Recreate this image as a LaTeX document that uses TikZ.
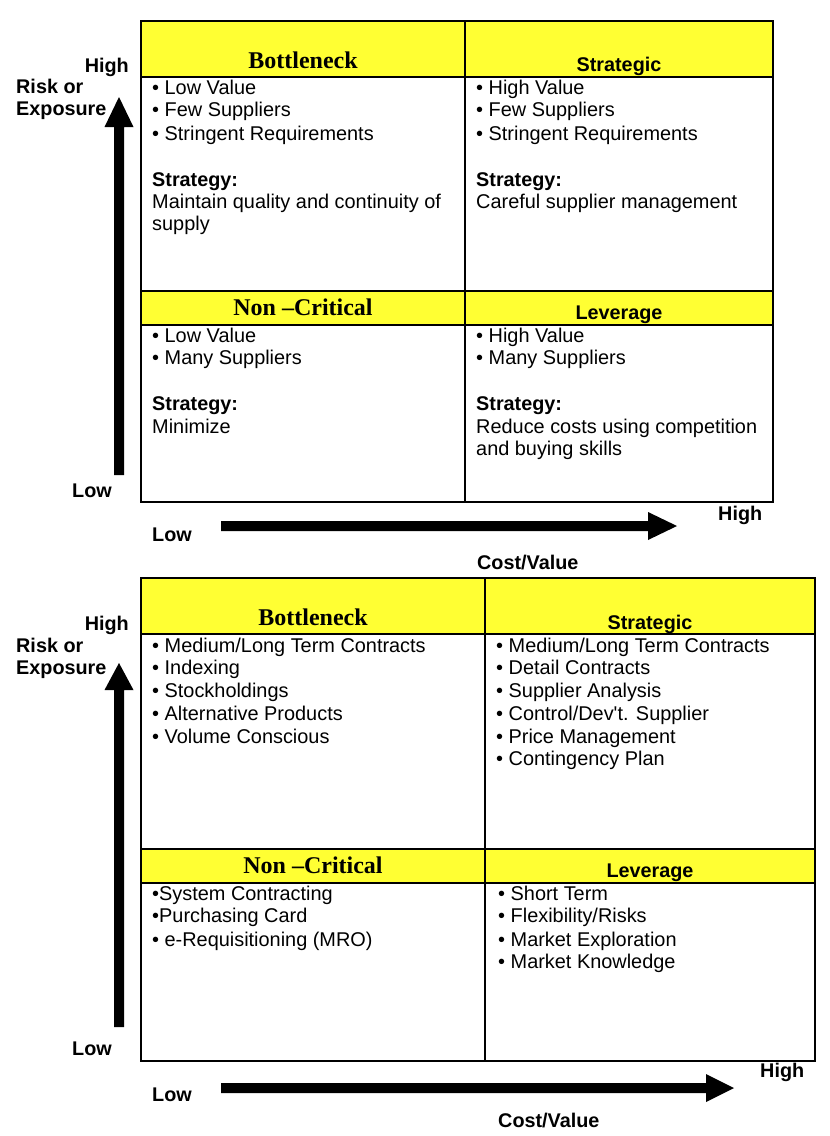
\documentclass[tikz,border=0pt]{standalone}
\usepackage{fontspec}
\setmainfont{Liberation Sans}
\newfontfamily\hdfont{Liberation Serif}
\definecolor{hdyellow}{HTML}{FFFF33}
\begin{document}
\begin{tikzpicture}[x=1pt,y=-1pt,
  body/.style={anchor=base west,inner sep=0pt,font=\fontsize{19.9}{23}\selectfont},
  lab/.style={anchor=base west,inner sep=0pt,font=\fontsize{19.8}{23}\selectfont\bfseries},
  labr/.style={anchor=base east,inner sep=0pt,font=\fontsize{19.8}{23}\selectfont\bfseries},
  hdT/.style={anchor=base,inner sep=0pt,font=\fontsize{24}{28}\selectfont\hdfont\bfseries},
  hdA/.style={anchor=base,inner sep=0pt,font=\fontsize{19.8}{23}\selectfont\bfseries},
  gridline/.style={line width=2pt,draw=black},
  hdfill/.style={fill=hdyellow}]
\useasboundingbox (0,0) rectangle (830,1136);

% ================= TOP MATRIX =================
\fill[hdfill] (141,21) rectangle (773,77);
\fill[hdfill] (141,291) rectangle (773,325);
\draw[gridline] (141,77) -- (773,77);
\draw[gridline] (141,291) -- (773,291);
\draw[gridline] (141,325) -- (773,325);
\draw[gridline] (465,21) -- (465,502);
\draw[gridline] (141,21) rectangle (773,502);

\node[hdT] (t-bn) at (303,68) {Bottleneck};
\node[hdA] (t-st) at (619,71) {Strategic};
\node[hdT] (t-nc) at (303,315) {Non –Critical};
\node[hdA] (t-lv) at (619,319) {Leverage};

\node[body] (t11) at (152,94) {• Low Value};
\node[body] (t12) at (152,116.5) {• Few Suppliers};
\node[body] (t13) at (152,140) {• Stringent Requirements};
\node[lab]  (t14) at (152,186) {Strategy:};
\node[body] (t15) at (152,208) {Maintain quality and continuity of};
\node[body] (t16) at (152,230) {supply};

\node[body] (t21) at (476,94) {• High Value};
\node[body] (t22) at (476,116.5) {• Few Suppliers};
\node[body] (t23) at (476,140) {• Stringent Requirements};
\node[lab]  (t24) at (476,186) {Strategy:};
\node[body] (t25) at (476,208) {Careful supplier management};

\node[body] (t31) at (152,342) {• Low Value};
\node[body] (t32) at (152,364) {• Many Suppliers};
\node[lab]  (t33) at (152,410) {Strategy:};
\node[body] (t34) at (152,433) {Minimize};

\node[body] (t41) at (476,342) {• High Value};
\node[body] (t42) at (476,364) {• Many Suppliers};
\node[lab]  (t43) at (476,410) {Strategy:};
\node[body] (t44) at (476,433) {Reduce costs using competition};
\node[body] (t45) at (476,455) {and buying skills};

% axes top
\fill (114,475) -- (114,127) -- (104.5,127) -- (119,97) -- (133.5,127) -- (124,127) -- (124,475) -- cycle;
\fill (221,521) -- (648,521) -- (648,512) -- (677,526) -- (648,540) -- (648,531) -- (221,531) -- cycle;

\node[labr] (t-hi) at (129,72) {High};
\node[lab]  (t-r1) at (16,93) {Risk or};
\node[lab]  (t-r2) at (16,115) {Exposure};
\node[lab]  (t-lo) at (72,497) {Low};
\node[lab]  (t-xl) at (152,541) {Low};
\node[lab]  (t-xh) at (718,520) {High};
\node[lab]  (t-cv) at (477,569) {Cost/Value};

% ================= BOTTOM MATRIX =================
\fill[hdfill] (141,578) rectangle (815,634);
\fill[hdfill] (141,849) rectangle (815,883);
\draw[gridline] (141,634) -- (815,634);
\draw[gridline] (141,849) -- (815,849);
\draw[gridline] (141,883) -- (815,883);
\draw[gridline] (485,578) -- (485,1061);
\draw[gridline] (141,578) rectangle (815,1061);

\node[hdT] (b-bn) at (313,625) {Bottleneck};
\node[hdA] (b-st) at (650,629) {Strategic};
\node[hdT] (b-nc) at (313,873) {Non –Critical};
\node[hdA] (b-lv) at (650,877) {Leverage};

\node[body] (b11) at (152,652) {• Medium/Long Term Contracts};
\node[body] (b12) at (152,674) {• Indexing};
\node[body] (b13) at (152,697) {• Stockholdings};
\node[body] (b14) at (152,720) {• Alternative Products};
\node[body] (b15) at (152,743) {• Volume Conscious};

\node[body] (b21) at (496,652) {• Medium/Long Term Contracts};
\node[body] (b22) at (496,674) {• Detail Contracts};
\node[body] (b23) at (496,697) {• Supplier Analysis};
\node[body] (b24) at (496,720) {• Control/Dev\textquotesingle t. Supplier};
\node[body] (b25) at (496,743) {• Price Management};
\node[body] (b26) at (496,765) {• Contingency Plan};

\node[body] (b31) at (152,900) {•System Contracting};
\node[body] (b32) at (152,922) {•Purchasing Card};
\node[body] (b33) at (152,946) {• e-Requisitioning (MRO)};

\node[body] (b41) at (498,900) {• Short Term};
\node[body] (b42) at (498,922) {• Flexibility/Risks};
\node[body] (b43) at (498,946) {• Market Exploration};
\node[body] (b44) at (498,968) {• Market Knowledge};

% axes bottom
\fill (114,1027) -- (114,690) -- (104.5,690) -- (119,663) -- (133.5,690) -- (124,690) -- (124,1027) -- cycle;
\fill (221,1083) -- (706,1083) -- (706,1074) -- (734,1088) -- (706,1102) -- (706,1093) -- (221,1093) -- cycle;

\node[labr] (b-hi) at (129,630) {High};
\node[lab]  (b-r1) at (16,652) {Risk or};
\node[lab]  (b-r2) at (16,674) {Exposure};
\node[lab]  (b-lo) at (72,1055) {Low};
\node[lab]  (b-xl) at (152,1101) {Low};
\node[lab]  (b-xh) at (760,1077) {High};
\node[lab]  (b-cv) at (498,1127) {Cost/Value};
\end{tikzpicture}
\end{document}
